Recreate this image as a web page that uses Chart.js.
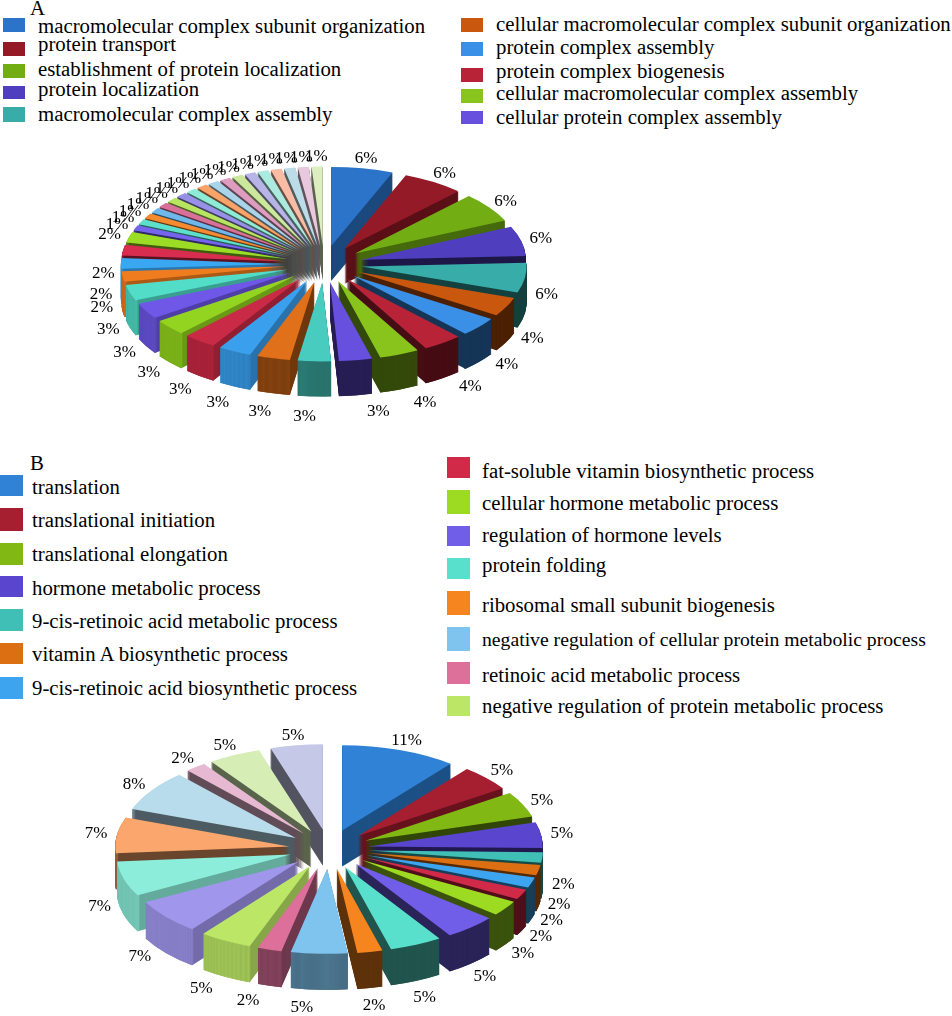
<!DOCTYPE html>
<html>
<head>
<meta charset="utf-8">
<style>
html, body { margin: 0; padding: 0; background: #fff; }
#page { position: relative; width: 952px; height: 1016px; overflow: hidden; font-family: "Liberation Serif", serif; color: #000; }
#page canvas { position: absolute; left: 0; }
.swatch { position: absolute; }
.txt { position: absolute; white-space: nowrap; line-height: 20px; height: 20px; }
</style>
<script src="https://cdn.jsdelivr.net/npm/chart.js@4"></script>
</head>
<body>
<div id="page">
  <canvas id="pieA"></canvas>
  <canvas id="pieB"></canvas>
</div>
<script>
// panel A
const legendA = ['macromolecular complex subunit organization', 'protein transport', 'establishment of protein localization', 'protein localization', 'macromolecular complex assembly',
    'cellular macromolecular complex subunit organization', 'protein complex assembly', 'protein complex biogenesis', 'cellular macromolecular complex assembly', 'cellular protein complex assembly'];
const percentA = [5.6, 5.6, 5.6, 5.6, 5.6, 3.6, 3.6, 3.6, 3.6, 3, 3, 3, 3, 3, 3, 3, 3, 2, 2, 2, 2,
    1, 1, 1, 1, 1, 1, 1, 1, 1, 1, 1, 1, 1, 1, 1, 1, 1, 1];
const colorsA = ['#2b74c9', '#931a26', '#72ad14', '#4f3fbf', '#38aca9', '#c9580e', '#3a8fe6', '#b82338', '#88c41c', '#6650dd',
    '#48ccbf', '#e0701a', '#3a9fed', '#c92a45', '#93d420', '#6f58e8', '#52ddc8', '#ef7d1f', '#3aa7f2', '#d92d50',
    '#9bdc25', '#7565ee', '#5ce0cc', '#f58a2e', '#6fb8ec', '#d9709a', '#b8e560', '#9890e8', '#8debd8', '#f8a368',
    '#a9d4ea', '#dd9cc0', '#cbe89c', '#b8b4e8', '#aceae0', '#fbbca5', '#bcdde8', '#e8c8dd', '#dcedc0'];

// panel B
const legendB = ['translation', 'translational initiation', 'translational elongation', 'hormone metabolic process', '9-cis-retinoic acid metabolic process', 'vitamin A biosynthetic process', '9-cis-retinoic acid biosynthetic process',
    'fat-soluble vitamin biosynthetic process', 'cellular hormone metabolic process', 'regulation of hormone levels', 'protein folding', 'ribosomal small subunit biogenesis', 'negative regulation of cellular protein metabolic process', 'retinoic acid metabolic process', 'negative regulation of protein metabolic process'];
const percentB = [11, 5, 5, 5, 2, 2, 2, 2, 3, 5, 5, 2.4, 5.4, 2.3, 5, 6.8, 6.8, 7, 8, 2, 5, 5];
const colorsB = ['#2f82d6', '#a61f30', '#82b814', '#5a45cf', '#3fbfb5', '#dc6f12', '#3da5f0', '#d02a48', '#9cdb22', '#715ee8', '#58e0cc',
    '#f7851f', '#7fc4ef', '#dc709a', '#bce666', '#a096ec', '#8ceeda', '#fba66c', '#b8dcec', '#e6b8d2', '#d6edb6', '#c6c8e8'];

// legend layout: [swatch x, swatch top, swatch height, text x, text centre y, font size]
const legendLayoutA = [
    [3, 18, 14, 38, 26, 20.8], [3, 42, 14, 38, 44, 20.8], [3, 64, 14, 38, 69, 20.8], [3, 86, 13, 38, 89, 20.8], [3, 107, 15, 38, 114, 20.8],
    [461, 18, 14, 496, 24, 20.8], [461, 42, 14, 496, 47, 20.8], [461, 68, 14, 496, 71, 20.8], [461, 89, 14, 496, 93, 20.8], [461, 111, 13, 496, 117, 20.8]
];
const legendLayoutB = [
    [0, 475, 21, 32, 487, 20.8], [0, 508, 23, 32, 520, 20.8], [0, 543, 22, 32, 554, 20.8], [0, 576, 21, 32, 588, 20.8], [0, 609, 22, 32, 621, 20.8], [0, 643, 21, 32, 654, 20.8], [0, 677, 22, 32, 688, 20.8],
    [447, 457, 21, 482, 471, 20.8], [447, 490, 24, 482, 503, 20.8], [447, 526, 20, 482, 535, 20.8], [447, 558, 21, 482, 565, 20.8], [447, 591, 24, 482, 605, 20.8], [447, 627, 24, 482, 639, 19.7], [447, 662, 22, 482, 675, 20.8], [447, 696, 20, 482, 706, 20.8]
];

function addText(text, x, y, size) {
    const el = document.createElement('div');
    el.className = 'txt';
    el.textContent = text;
    el.style.left = x + 'px';
    el.style.top = (y - 10) + 'px';
    el.style.fontSize = size + 'px';
    document.getElementById('page').appendChild(el);
}

function addLegend(names, colors, layout, swatchW) {
    names.forEach(function (name, i) {
        const [sx, sy, sh, tx, ty, size] = layout[i];
        const box = document.createElement('div');
        box.className = 'swatch';
        box.style.cssText = `left:${sx}px;top:${sy}px;width:${swatchW}px;height:${sh}px;background:${colors[i]}`;
        document.getElementById('page').appendChild(box);
        addText(name, tx, ty, size);
    });
}

function shade(hex, f) {
    const n = parseInt(hex.slice(1), 16);
    return `rgb(${Math.round((n >> 16) * f)},${Math.round(((n >> 8) & 255) * f)},${Math.round((n & 255) * f)})`;
}

// wall tones depend on which way the slice faces
function wallTones(deg) {
    if (deg < 60) return { side: 0.62, rim: 0.62 };
    if (deg < 180) return { side: 0.38, rim: 0.38 };
    if (deg < 200) return { side: 0.5, rim: 0.6 };
    if (deg < 275) return { side: 0.72, rim: 0.85 };
    return { side: 0.42, rim: 0.6 };
}

// flattened exploded pie with walls, drawn from the library's own arc elements
const tiltedPie = {
    id: 'tiltedPie',
    beforeDatasetsDraw(chart, args, opts) {
        const ctx = chart.ctx;
        const arcs = chart.getDatasetMeta(0).data;
        const values = chart.data.datasets[0].data;
        const colors = chart.data.datasets[0].backgroundColor;
        const items = arcs.map(function (arc, i) {
            const mid = (arc.startAngle + arc.endAngle) / 2;
            return { arc, i, mid, dx: Math.cos(mid) * opts.explode, dy: Math.sin(mid) * opts.explode };
        });

        function place(item, lift) {
            ctx.translate(item.arc.x, item.arc.y + lift);
            ctx.scale(1, opts.tilt);
            ctx.translate(-item.arc.x + item.dx, -item.arc.y + item.dy);
        }

        // walls first, back to front
        items.slice().sort((a, b) => Math.sin(a.mid) - Math.sin(b.mid)).forEach(function (item) {
            const deg = (item.mid * 180 / Math.PI + 90 + 360) % 360;
            const tones = wallTones(deg);
            const base = item.arc.options;
            item.arc.options = Object.assign({}, base, { backgroundColor: shade(colors[item.i], tones.side), borderWidth: 0 });
            for (let lift = opts.depth; lift > 0; lift--) {
                ctx.save();
                place(item, lift);
                item.arc.draw(ctx);
                ctx.beginPath();
                ctx.arc(item.arc.x, item.arc.y, item.arc.outerRadius - 1, item.arc.startAngle, item.arc.endAngle);
                ctx.strokeStyle = shade(colors[item.i], tones.rim);
                ctx.lineWidth = 2.5;
                ctx.stroke();
                ctx.restore();
            }
            item.arc.options = base;
        });

        // top faces
        items.forEach(function (item) {
            ctx.save();
            place(item, 0);
            item.arc.draw(ctx);
            ctx.restore();
        });

        // percent labels
        ctx.save();
        ctx.fillStyle = '#000';
        ctx.font = opts.fontSize + 'px "Liberation Serif"';
        ctx.textAlign = 'center';
        ctx.textBaseline = 'middle';
        items.forEach(function (item) {
            let angle = item.mid;
            if (Math.sin(angle) > 0) angle += Math.cos(angle) > 0 ? -opts.turnRight : opts.turnLeft;
            const reach = item.arc.outerRadius + opts.explode + opts.gap;
            const bias = Math.cos(angle) < 0 ? opts.leftBias : 0;
            const down = Math.pow(Math.max(0, Math.sin(angle) + bias), 0.2);
            const x = item.arc.x + Math.cos(angle) * reach;
            const y = item.arc.y + Math.sin(angle) * reach * opts.tilt + down * (opts.depth + opts.extraDown);
            ctx.fillText(Math.round(values[item.i]) + '%', x, y);
        });
        ctx.restore();
        return false;
    }
};

function makePie(id, top, width, height, padBottom, values, names, colors, radius, settings) {
    const canvas = document.getElementById(id);
    canvas.style.top = top + 'px';
    canvas.style.width = width + 'px';
    canvas.style.height = height + 'px';
    canvas.width = width;
    canvas.height = height;
    return new Chart(canvas, {
        type: 'pie',
        data: {
            labels: values.map((v, i) => names[i] || ''),
            datasets: [{ data: values, backgroundColor: colors, borderWidth: 0, radius: radius }]
        },
        options: {
            responsive: false,
            animation: false,
            events: [],
            devicePixelRatio: 1,
            layout: { padding: { bottom: padBottom } },
            plugins: { legend: { display: false }, tooltip: { enabled: false }, tiltedPie: settings }
        },
        plugins: [tiltedPie]
    });
}

document.addEventListener('DOMContentLoaded', function () {
    addText('A', 30, 8, 20.8);
    addLegend(legendA, colorsA, legendLayoutA, 22);
    addText('B', 30, 463, 20.8);
    addLegend(legendB, colorsB, legendLayoutB, 23);
    makePie('pieA', 130, 648, 300, 32, percentA, legendA, colorsA, 165, { tilt: 0.48, explode: 38, depth: 35, gap: 20, extraDown: 9, fontSize: 17, turnRight: 0.09, turnLeft: 0.04, leftBias: 0.2 });
    makePie('pieB', 720, 658, 296, 38, percentB, legendB, colorsB, 174, { tilt: 0.49, explode: 40, depth: 36, gap: 21, extraDown: 8, fontSize: 17, turnRight: 0, turnLeft: 0.07, leftBias: 0 });
});
</script>
</body>
</html>
